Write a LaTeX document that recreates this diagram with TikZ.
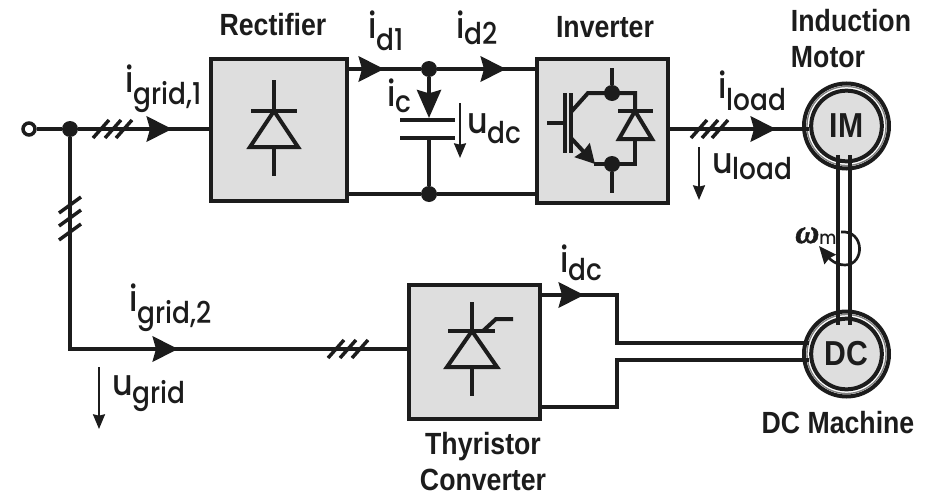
\documentclass[tikz,border=0pt]{standalone}
\usepackage{amsmath}
\usepackage{amssymb}
\usepackage{xcolor}
\usepackage{fontspec}
\setmainfont{Poppins Medium}[FakeStretch=0.88]
\newfontfamily\titlefont{Liberation Sans}[FakeStretch=0.87]
\newfontfamily\omegafont{Liberation Serif}[FakeBold=1.5]
\usetikzlibrary{calc,arrows.meta}
% main letter, then its subscript; the optional value is how far the subscript drops
\newcommand{\sublbl}[3][9pt]{{\fontsize{27}{27}\selectfont #2}\raisebox{-#1}{\fontsize{22.5}{22}\selectfont #3}}

\begin{document}
\begin{tikzpicture}[x=0.75pt,y=-0.75pt]
	\definecolor{blockgray}{RGB}{222,222,222}
	\definecolor{inkblack}{RGB}{28,28,28}
	\tikzset{
		blockbox/.style={
			draw=inkblack,
			fill=blockgray,
			line width=3pt,
			minimum width=#1,
			inner sep=0pt
		},
		wire/.style={
			draw=inkblack,
			line width=3pt
		},
		flow/.style={
			wire,
			-{Stealth[length=19pt,width=19pt,inset=2.5pt]}
		},
		tick/.style={
			draw=inkblack,
			line width=2.6pt
		},
		dot/.style={
			circle,
			fill=inkblack,
			minimum size=12pt,
			inner sep=0pt
		},
		terminal/.style={
			circle,
			draw=inkblack,
			fill=white,
			line width=2.6pt,
			minimum size=9pt,
			inner sep=0pt
		},
		machine/.style={
			circle,
			draw=inkblack,
			fill=blockgray,
			line width=3pt,
			minimum size=53pt,
			inner sep=0pt,
			text=inkblack,
			font=\titlefont\bfseries\fontsize{26}{26}\selectfont
		},
		volt/.style={
			draw=inkblack,
			line width=1.5pt,
			-{Stealth[length=11pt,width=9pt,inset=1pt]}
		},
		title/.style={
			text=inkblack,
			font=\titlefont\bfseries\fontsize{23}{27}\selectfont
		},
		lbl/.style={
			anchor=base west,
			text=inkblack,
			inner sep=0pt
		}
	}
	\useasboundingbox (0,0) rectangle (932,496);

	% ======= Blocks =======
	\node[blockbox=102pt,minimum height=107pt] (rectifier) at (279,130) {};
	\node[blockbox=98pt,minimum height=108pt] (inverter) at (602.5,131) {};
	\node[blockbox=98pt,minimum height=101pt] (thyristor) at (474.5,352) {};

	% ======= Machines =======
	\draw[wire] (846.5,126) circle [radius=42.5];
	\draw[inkblack!55,line width=1pt] (846.5,126) circle [radius=39.5];
	\node[machine] (im) at (846.5,126) {IM};
	\draw[wire] (846.5,354) circle [radius=42.5];
	\draw[inkblack!55,line width=1pt] (846.5,354) circle [radius=39.5];
	\node[machine] (dc) at (846.5,354) {DC};

	% ======= Grid side =======
	\node[terminal] (source) at (29,129) {};
	\node[dot] (gridnode) at (70,129) {};
	\coordinate (tipgrida) at (172,129);
	\coordinate (gridcorner) at (70,349);
	\coordinate (tipgridb) at (178,349);
	\draw[wire] (source) -- (gridnode);
	\draw[wire] (gridnode) -- (rectifier.west |- gridnode);
	\draw[flow] (gridnode) -- (tipgrida);
	\draw[wire] (gridnode) -- (gridcorner) -- (thyristor.west |- gridcorner);
	\draw[flow] (gridcorner) -- (tipgridb);
	\foreach \tx in {101,113,124}
		\draw[tick] (\tx-8,138) -- (\tx+8,120);
	\foreach \ty in {205,218,232}
		\draw[tick] (59,\ty+8) -- (81,\ty-8);
	\foreach \tx in {336,348,360}
		\draw[tick] (\tx-8,358) -- (\tx+8,340);

	% ======= DC link =======
	\node[dot] (linktop) at (429,69) {};
	\node[dot] (linkbot) at (429,194) {};
	\coordinate (tipda) at (384,69);
	\coordinate (tipdb) at (506,69);
	\coordinate (tipc) at (429,118);
	\coordinate (platedn) at (429,138);
	\draw[wire] (rectifier.east |- linktop) -- (linktop) -- (inverter.west |- linktop);
	\draw[flow] (rectifier.east |- tipda) -- (tipda);
	\draw[flow] (linktop) -- (tipdb);
	\draw[wire] (rectifier.east |- linkbot) -- (linkbot) -- (inverter.west |- linkbot);
	\draw[wire,-{Stealth[length=21pt,width=18pt,inset=2.5pt]}] (linktop) -- (tipc);
	\draw[wire] (platedn) -- (linkbot);
	\draw[wire] (400,120) -- (455,120);
	\draw[wire] (400,138) -- (455,138);
	\draw[volt] (460,103) -- (460,158);

	% ======= Load side =======
	\coordinate (tipload) at (776,129);
	\draw[wire] (inverter.east |- tipload) -- (im.west |- tipload);
	\draw[flow] (inverter.east |- tipload) -- (tipload);
	\foreach \tx in {699,710,720}
		\draw[tick] (\tx-8,138) -- (\tx+8,120);
	\draw[volt] (699,147) -- (699,200);

	% ======= Shaft =======
	\coordinate (shaftbl) at (838,155);
	\coordinate (shaftbr) at (850,155);
	\coordinate (shaftel) at (838,325);
	\coordinate (shafter) at (850,325);
	\draw[wire] (shaftbl) -- (shaftel);
	\draw[wire] (shaftbr) -- (shafter);
	\draw[draw=inkblack,line width=2pt,-{Stealth[length=13pt,width=11pt,inset=1pt]}]
		(841,232) .. controls (865,230) and (865,265) .. (845,265)
		.. controls (835,265) and (829,258) .. (819,246);

	% ======= Thyristor output =======
	\coordinate (tipdc) at (584,295);
	\coordinate (dcupper) at (617,295);
	\coordinate (dclower) at (617,407);
	\draw[wire,line join=miter] (thyristor.east |- dcupper) -- (dcupper) -- (617,343) -- (dc.west |- 0,343);
	\draw[flow] (thyristor.east |- tipdc) -- (tipdc);
	\draw[wire,line join=miter] (thyristor.east |- dclower) -- (dclower) -- (617,360) -- (dc.west |- 0,360);

	% ======= Symbols in the blocks =======
	% diode
	\draw[wire] (274,80) -- (274,111);
	\draw[wire] (274,147) -- (274,176);
	\draw[wire] (251,111) -- (297,111);
	\draw[wire,line join=miter] (274,111) -- (298,147) -- (250,147) -- cycle;
	% thyristor
	\draw[wire] (472,302) -- (472,331);
	\draw[wire] (472,367) -- (472,396);
	\draw[wire] (448,331) -- (495,331);
	\draw[wire,line join=miter] (472,331) -- (497,367) -- (447,367) -- cycle;
	\draw[wire] (483,331) -- (496,319) -- (513,319);
	% igbt + diode
	\node[dot] (igbttop) at (612,93) {};
	\node[dot] (igbtbot) at (612,164) {};
	\draw[wire] (612,68) -- (igbttop);
	\draw[wire] (igbtbot) -- (612,193);
	\draw[wire] (547,123) -- (565,123);
	\draw[wire] (565,93) -- (565,153);
	\draw[wire] (571,93) -- (571,153);
	\draw[wire] (571,112) -- (588,93) -- (635,93) -- (635,111);
	\draw[wire] (635,139) -- (635,164) -- (594,164);
	\draw[wire,-{Stealth[length=14pt,width=15pt,inset=1pt]}] (571,138) -- (595,164);
	\draw[wire] (618,111) -- (653,111);
	\draw[wire,line join=miter] (635,111) -- (652,139) -- (619,139) -- cycle;

	% ======= Labels =======
	\node[title] (rectlabel) at (273,25) {Rectifier};
	\node[title] (invlabel) at (605,27) {Inverter};
	\node[title,align=left] (imlabel) at (851,39) {Induction\\Motor};
	\node[title,align=center] (thylabel) at (483,462) {Thyristor\\Converter};
	\node[title] (dclabel) at (838,423) {DC Machine};
	\node[lbl] (igrida) at (125,92) {\sublbl{i}{grid,1}};
	\node[lbl] (igridb) at (129,311) {\sublbl{i}{grid,2}};
	\node[lbl] (ida) at (368,38) {\sublbl{i}{d1}};
	\node[lbl] (idb) at (456,38) {\sublbl[5pt]{i}{d2}};
	\node[lbl] (ic) at (387,106) {\sublbl[5pt]{i}{c}};
	\node[lbl] (udc) at (467,133) {\sublbl[7.5pt]{u}{dc}};
	\node[lbl] (iload) at (718,98) {\sublbl{i}{load}};
	\node[lbl] (uload) at (712,173) {\sublbl[5pt]{u}{load}};
	\node[lbl] (ugrid) at (112,395) {\sublbl[6pt]{u}{grid}};
	\node[lbl] (idclabel) at (560,272) {\sublbl[6pt]{i}{dc}};
	\node[lbl] (omegalabel) at (795,243) {{\omegafont\bfseries\itshape\fontsize{25}{25}\selectfont ω}\raisebox{-1pt}{\fontsize{14}{14}\selectfont m}};
	\draw[volt] (99,367) -- (99,429);
\end{tikzpicture}
\end{document}
